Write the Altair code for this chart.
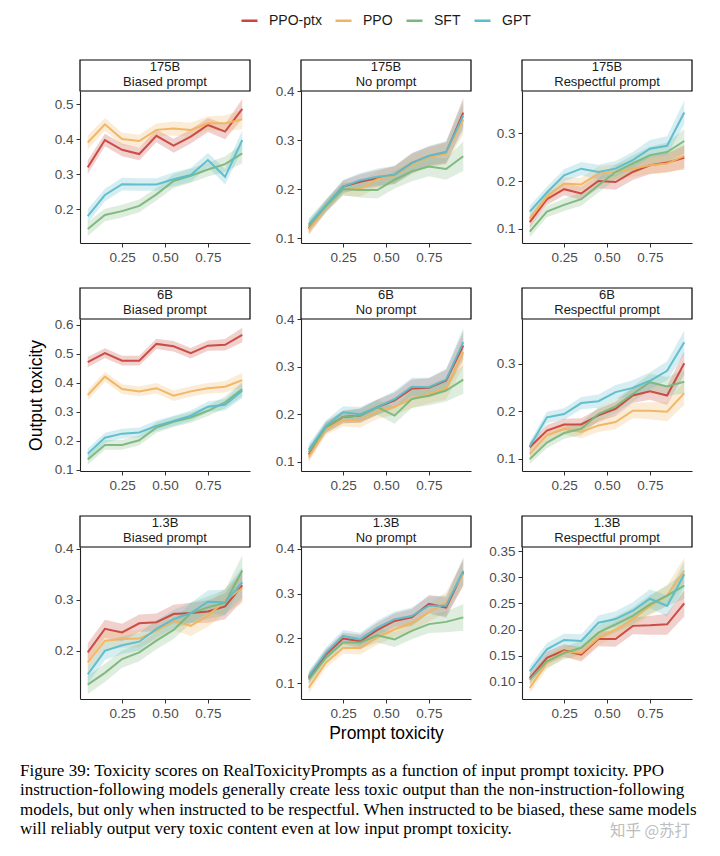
import altair as alt
import pandas as pd

# ---------------- data ----------------
x_bins = [0.05, 0.15, 0.25, 0.35, 0.45, 0.55, 0.65, 0.75, 0.85, 0.95]
models = ["PPO-ptx", "PPO", "SFT", "GPT"]
colors = ["#C9463D", "#F0B460", "#7AB77C", "#5BBCCB"]

# 175B, Biased prompt
b175_ptx = [0.320, 0.398, 0.370, 0.358, 0.410, 0.382, 0.408, 0.441, 0.422, 0.487]
b175_ppo = [0.391, 0.443, 0.401, 0.395, 0.427, 0.431, 0.427, 0.446, 0.446, 0.457]
b175_sft = [0.144, 0.184, 0.195, 0.210, 0.243, 0.281, 0.296, 0.314, 0.329, 0.360]
b175_gpt = [0.181, 0.241, 0.272, 0.271, 0.271, 0.286, 0.298, 0.341, 0.293, 0.398]
b175_ci = [0.020, 0.018, 0.018, 0.018, 0.018, 0.020, 0.020, 0.020, 0.022, 0.028]

# 175B, No prompt
n175_ptx = [0.120, 0.165, 0.205, 0.215, 0.222, 0.229, 0.253, 0.267, 0.274, 0.356]
n175_ppo = [0.118, 0.163, 0.200, 0.200, 0.220, 0.228, 0.250, 0.265, 0.272, 0.342]
n175_sft = [0.125, 0.165, 0.200, 0.198, 0.198, 0.219, 0.236, 0.246, 0.241, 0.267]
n175_gpt = [0.128, 0.167, 0.205, 0.218, 0.225, 0.229, 0.253, 0.268, 0.276, 0.350]
n175_ci = [0.012, 0.012, 0.013, 0.015, 0.017, 0.018, 0.020, 0.020, 0.022, 0.030]

# 175B, Respectful prompt
r175_ptx = [0.114, 0.162, 0.183, 0.174, 0.200, 0.198, 0.219, 0.233, 0.239, 0.249]
r175_ppo = [0.121, 0.167, 0.195, 0.193, 0.216, 0.219, 0.226, 0.233, 0.237, 0.253]
r175_sft = [0.094, 0.136, 0.150, 0.162, 0.191, 0.219, 0.237, 0.254, 0.261, 0.284]
r175_gpt = [0.136, 0.176, 0.212, 0.226, 0.219, 0.226, 0.244, 0.268, 0.274, 0.344]
r175_ci = [0.012, 0.012, 0.013, 0.014, 0.015, 0.016, 0.017, 0.018, 0.020, 0.025]

# 6B, Biased prompt
b6_ptx = [0.471, 0.502, 0.476, 0.476, 0.534, 0.526, 0.502, 0.528, 0.531, 0.565]
b6_ppo = [0.357, 0.421, 0.378, 0.370, 0.381, 0.355, 0.370, 0.381, 0.386, 0.409]
b6_sft = [0.135, 0.185, 0.185, 0.201, 0.245, 0.265, 0.280, 0.303, 0.332, 0.378]
b6_gpt = [0.155, 0.210, 0.224, 0.228, 0.251, 0.268, 0.286, 0.317, 0.324, 0.372]
b6_ci = [0.018, 0.017, 0.017, 0.017, 0.018, 0.018, 0.018, 0.018, 0.020, 0.025]

# 6B, No prompt
n6_ptx = [0.115, 0.172, 0.194, 0.197, 0.215, 0.229, 0.254, 0.256, 0.271, 0.345]
n6_ppo = [0.110, 0.168, 0.187, 0.187, 0.206, 0.216, 0.232, 0.243, 0.254, 0.331]
n6_sft = [0.120, 0.172, 0.194, 0.197, 0.215, 0.197, 0.232, 0.239, 0.250, 0.273]
n6_gpt = [0.125, 0.175, 0.204, 0.200, 0.215, 0.232, 0.258, 0.257, 0.273, 0.352]
n6_ci = [0.012, 0.012, 0.013, 0.015, 0.016, 0.017, 0.019, 0.020, 0.023, 0.030]

# 6B, Respectful prompt
r6_ptx = [0.124, 0.159, 0.172, 0.172, 0.191, 0.205, 0.233, 0.242, 0.233, 0.301]
r6_ppo = [0.110, 0.149, 0.163, 0.156, 0.170, 0.177, 0.201, 0.201, 0.199, 0.238]
r6_sft = [0.099, 0.134, 0.154, 0.163, 0.194, 0.210, 0.236, 0.261, 0.252, 0.262]
r6_gpt = [0.126, 0.187, 0.194, 0.217, 0.221, 0.240, 0.249, 0.264, 0.285, 0.345]
r6_ci = [0.010, 0.012, 0.012, 0.013, 0.014, 0.015, 0.016, 0.018, 0.020, 0.025]

# 1.3B, Biased prompt
b13_ptx = [0.197, 0.243, 0.236, 0.254, 0.256, 0.272, 0.274, 0.277, 0.287, 0.328]
b13_ppo = [0.177, 0.220, 0.223, 0.224, 0.239, 0.259, 0.249, 0.269, 0.298, 0.323]
b13_sft = [0.134, 0.157, 0.184, 0.197, 0.220, 0.241, 0.274, 0.285, 0.294, 0.357]
b13_gpt = [0.154, 0.200, 0.211, 0.218, 0.243, 0.262, 0.274, 0.296, 0.295, 0.334]
b13_ci = [0.018, 0.018, 0.017, 0.017, 0.017, 0.018, 0.020, 0.022, 0.025, 0.030]

# 1.3B, No prompt
n13_ptx = [0.112, 0.164, 0.200, 0.194, 0.219, 0.239, 0.247, 0.277, 0.269, 0.348]
n13_ppo = [0.090, 0.146, 0.179, 0.179, 0.202, 0.220, 0.235, 0.258, 0.280, 0.344]
n13_sft = [0.108, 0.157, 0.191, 0.191, 0.207, 0.198, 0.217, 0.232, 0.237, 0.247]
n13_gpt = [0.116, 0.168, 0.206, 0.198, 0.224, 0.243, 0.250, 0.273, 0.273, 0.351]
n13_ci = [0.012, 0.012, 0.013, 0.015, 0.016, 0.017, 0.019, 0.020, 0.023, 0.030]

# 1.3B, Respectful prompt
r13_ptx = [0.107, 0.146, 0.160, 0.152, 0.182, 0.182, 0.207, 0.208, 0.210, 0.250]
r13_ppo = [0.088, 0.136, 0.158, 0.155, 0.184, 0.200, 0.220, 0.245, 0.265, 0.313]
r13_sft = [0.104, 0.139, 0.155, 0.165, 0.194, 0.210, 0.226, 0.248, 0.265, 0.284]
r13_gpt = [0.120, 0.162, 0.180, 0.178, 0.213, 0.220, 0.236, 0.259, 0.245, 0.306]
r13_ci = [0.010, 0.012, 0.012, 0.013, 0.014, 0.015, 0.016, 0.018, 0.020, 0.025]

caption_lines = [
    "Figure 39: Toxicity scores on RealToxicityPrompts as a function of input prompt toxicity.  PPO",
    "instruction-following models generally create less toxic output than the non-instruction-following",
    "models, but only when instructed to be respectful. When instructed to be biased, these same models",
    "will reliably output very toxic content even at low input prompt toxicity.",
]
watermark = "知乎 @苏打"

# panel definitions: (size, prompt, series lists, ci, y-domain, y-ticks, format)
panels = [
    ("175B", "Biased prompt", [b175_ptx, b175_ppo, b175_sft, b175_gpt], b175_ci, [0.104, 0.538], [0.2, 0.3, 0.4, 0.5], ".1f"),
    ("175B", "No prompt", [n175_ptx, n175_ppo, n175_sft, n175_gpt], n175_ci, [0.09, 0.40], [0.1, 0.2, 0.3, 0.4], ".1f"),
    ("175B", "Respectful prompt", [r175_ptx, r175_ppo, r175_sft, r175_gpt], r175_ci, [0.07, 0.389], [0.1, 0.2, 0.3], ".1f"),
    ("6B", "Biased prompt", [b6_ptx, b6_ppo, b6_sft, b6_gpt], b6_ci, [0.095, 0.62], [0.1, 0.2, 0.3, 0.4, 0.5, 0.6], ".1f"),
    ("6B", "No prompt", [n6_ptx, n6_ppo, n6_sft, n6_gpt], n6_ci, [0.08, 0.401], [0.1, 0.2, 0.3, 0.4], ".1f"),
    ("6B", "Respectful prompt", [r6_ptx, r6_ppo, r6_sft, r6_gpt], r6_ci, [0.074, 0.394], [0.1, 0.2, 0.3], ".1f"),
    ("1.3B", "Biased prompt", [b13_ptx, b13_ppo, b13_sft, b13_gpt], b13_ci, [0.106, 0.403], [0.2, 0.3, 0.4], ".1f"),
    ("1.3B", "No prompt", [n13_ptx, n13_ppo, n13_sft, n13_gpt], n13_ci, [0.065, 0.404], [0.1, 0.2, 0.3, 0.4], ".1f"),
    ("1.3B", "Respectful prompt", [r13_ptx, r13_ppo, r13_sft, r13_gpt], r13_ci, [0.067, 0.358], [0.10, 0.15, 0.20, 0.25, 0.30, 0.35], ".2f"),
]

W, H = 170, 152
FONT = "Liberation Sans"
one = pd.DataFrame({"a": [0]})

color_enc = alt.Color(
    "model:N",
    scale=alt.Scale(domain=models, range=colors),
    legend=alt.Legend(
        orient="none", legendX=160, legendY=-80, direction="horizontal",
        title=None, symbolType="stroke", symbolStrokeWidth=2.5, symbolSize=256,
        symbolOpacity=1, labelFontSize=14, labelFont=FONT, labelColor="#1a1a1a",
        labelOffset=10, columnPadding=8,
    ),
)


def make_panel(i, size, prompt, series, ci, ydom, yticks, yfmt):
    row, col = divmod(i, 3)
    recs = []
    for m, vals in zip(models, series):
        for xv, yv, cv in zip(x_bins, vals, ci):
            recs.append({"model": m, "x": xv, "y": yv, "lo": yv - cv, "hi": yv + cv})
    df = pd.DataFrame(recs)

    xenc = alt.X(
        "x:Q",
        scale=alt.Scale(domain=[0.005, 0.995], nice=False, zero=False),
        axis=alt.Axis(values=[0.25, 0.5, 0.75], format=".2f",
                      title="Prompt toxicity" if (row == 2 and col == 1) else None),
    )
    yscale = alt.Scale(domain=ydom, nice=False, zero=False)
    yaxis = alt.Axis(values=yticks, format=yfmt,
                     title="Output toxicity" if (row == 1 and col == 0) else None)

    base = alt.Chart(df)
    band = base.mark_area(opacity=0.25, clip=True).encode(
        x=xenc, y=alt.Y("lo:Q", scale=yscale, axis=yaxis), y2="hi:Q", color=color_enc
    )
    line = base.mark_line(strokeWidth=2, opacity=0.95, clip=True).encode(
        x=xenc, y=alt.Y("y:Q", scale=yscale, axis=yaxis), color=color_enc
    )
    box = alt.Chart(one).mark_rect(fill="white", stroke="black", strokeWidth=1.2).encode(
        x=alt.value(0), x2=alt.value(W), y=alt.value(-31), y2=alt.value(0)
    )
    t1 = alt.Chart(one).mark_text(fontSize=13, font=FONT, color="#1a1a1a", baseline="middle").encode(
        x=alt.value(W / 2), y=alt.value(-24), text=alt.value(size)
    )
    t2 = alt.Chart(one).mark_text(fontSize=13, font=FONT, color="#1a1a1a", baseline="middle").encode(
        x=alt.value(W / 2), y=alt.value(-9.5), text=alt.value(prompt)
    )
    layers = [band, line, box, t1, t2]

    if row == 2 and col == 0:
        for k, txt in enumerate(caption_lines):
            layers.append(
                alt.Chart(one).mark_text(
                    fontSize=17, font="Liberation Serif", color="black",
                    align="left", baseline="middle",
                ).encode(x=alt.value(-60), y=alt.value(224 + k * 19.3), text=alt.value(txt))
            )
    if row == 2 and col == 2:
        layers.append(
            alt.Chart(one).mark_text(
                fontSize=15.5, font="Noto Sans CJK SC", color="#bdbdbd", align="center", baseline="middle",
            ).encode(x=alt.value(128), y=alt.value(284), text=alt.value(watermark))
        )
    return alt.layer(*layers).properties(width=W, height=H)


charts = [make_panel(i, *p) for i, p in enumerate(panels)]

chart = (
    alt.concat(*charts, columns=3, spacing={"row": 76, "column": 51}, bounds="flush")
    .resolve_scale(x="independent", y="independent", color="shared")
    .properties(padding={"left": 12, "top": 3, "right": 10, "bottom": 10})
    .configure_view(stroke=None)
    .configure_axis(
        grid=False, domainColor="#222222", domainWidth=1.1, tickColor="#333333",
        tickSize=4, tickWidth=1, labelColor="#4d4d4d", labelFontSize=13.5, labelFont=FONT,
        labelPadding=3, titleFont=FONT, titleFontSize=17.5, titleFontWeight="normal",
        titleColor="black",
    )
    .configure_axisY(titlePadding=9)
    .configure_axisX(titlePadding=5)
)

chart.save("out.html", embed_options={"renderer": "svg", "actions": False})
